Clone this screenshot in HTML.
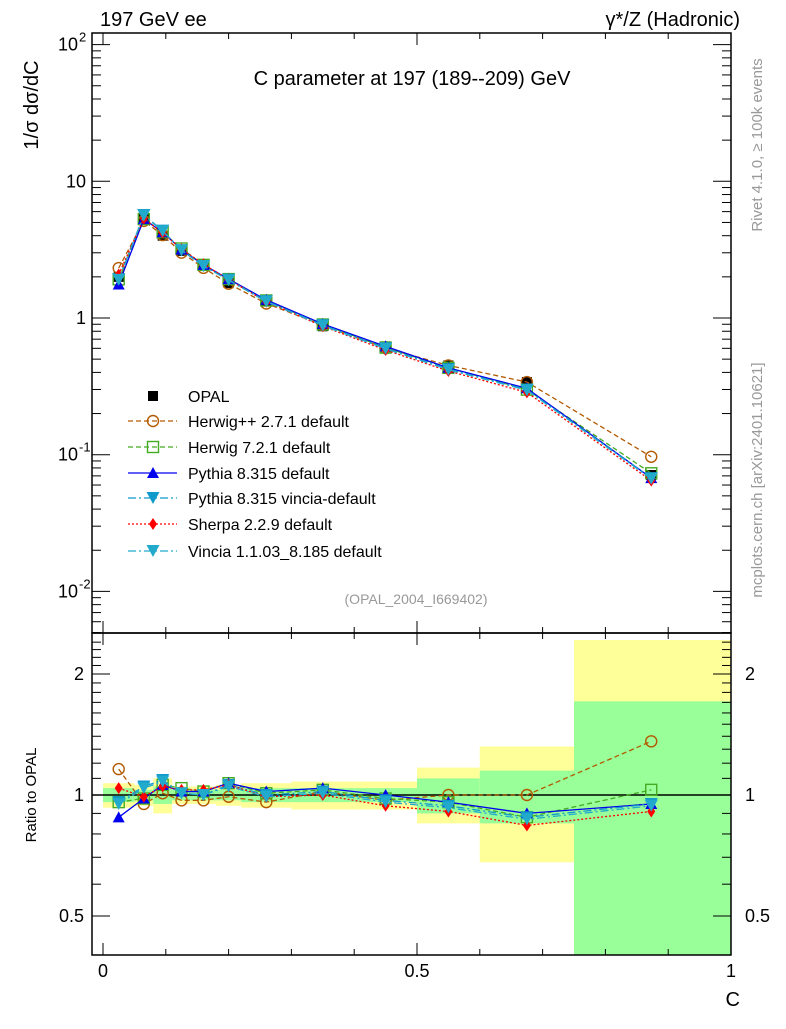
<!DOCTYPE html>
<html><head><meta charset="utf-8"><style>
body{margin:0;background:#fff;font-family:"Liberation Sans",sans-serif}
svg text{font-family:"Liberation Sans",sans-serif}
</style></head><body>
<svg id="c" width="786" height="1024" xmlns="http://www.w3.org/2000/svg"></svg>
<script>
const edges=[0,0.05,0.08,0.11,0.14,0.18,0.22,0.3,0.4,0.5,0.6,0.75,1.0];
const centers=[0.025,0.065,0.095,0.125,0.16,0.2,0.26,0.35,0.45,0.55,0.675,0.873];
const opal=[2.0,5.4,4.0,3.1,2.4,1.8,1.33,0.87,0.62,0.45,0.34,0.071];
const yellowHi=[1.07,1.06,1.1,1.05,1.05,1.06,1.07,1.08,1.08,1.17,1.32,2.6];
const yellowLo=[0.93,0.94,0.9,0.95,0.95,0.94,0.93,0.92,0.92,0.85,0.68,0.3];
const greenHi=[1.04,1.03,1.05,1.03,1.03,1.03,1.04,1.04,1.04,1.1,1.15,1.71];
const greenLo=[0.96,0.97,0.95,0.97,0.97,0.97,0.96,0.96,0.96,0.9,0.85,0.3];
const rHerwigpp=[1.16,0.95,1.01,0.97,0.97,0.99,0.96,1.02,0.97,1.0,1.0,1.36];
const rHerwig7=[0.96,0.98,1.06,1.04,1.02,1.07,1.01,1.03,0.98,0.96,0.88,1.03];
const rPythia=[0.88,0.98,1.06,1.02,1.02,1.07,1.02,1.04,1.0,0.96,0.9,0.95];
const rPyVincia=[0.96,1.05,1.09,1.01,1.0,1.06,1.0,1.02,0.97,0.94,0.88,0.95];
const rSherpa=[1.04,0.99,1.05,1.03,1.03,1.06,0.99,1.0,0.94,0.91,0.84,0.91];
const rVincia=[0.95,1.04,1.08,1.01,1.0,1.05,0.99,1.01,0.96,0.93,0.87,0.94];
const xTicks=[0,0.5,1];
const mainTicks=[-2,-1,0,1,2];
const ratioTicks=[0.5,1,2];

const NS="http://www.w3.org/2000/svg",svg=document.getElementById('c');
const X=v=>103+v*628;
const Ym=v=>318-136.7*Math.log10(v);
const Yr=v=>795-402*Math.log10(v);
const L=92,R=731,T=33,M=633,B=955;
function el(t,a,p){const e=document.createElementNS(NS,t);for(const k in a)e.setAttribute(k,a[k]);(p||svg).appendChild(e);return e;}
function txt(s,a){const e=el('text',a);e.textContent=s;return e;}

for(let i=0;i<edges.length-1;i++){
  const x0=X(edges[i]),x1=X(edges[i+1]);
  const yt=Math.max(M+7,Yr(yellowHi[i])),ybt=Math.min(B,Yr(yellowLo[i]));
  const yb=el('rect',{x:x0,y:yt,width:x1-x0,height:ybt-yt,fill:'#ffff99'});
  
  
  const gt=Math.max(M,Yr(greenHi[i])),gbt=Math.min(B,Yr(greenLo[i]));
  const gb=el('rect',{x:x0,y:gt,width:x1-x0,height:gbt-gt,fill:'#99ff99'});
  
  
}
el('line',{x1:L,x2:R,y1:Yr(1),y2:Yr(1),stroke:'#000','stroke-width':1.5});

const series=[
 {name:'Herwig++ 2.7.1 default',r:rHerwigpp,col:'#b35900',dash:'5,3',m:'circle'},
 {name:'Herwig 7.2.1 default',r:rHerwig7,col:'#44aa22',dash:'5,3',m:'square'},
 {name:'Pythia 8.315 default',r:rPythia,col:'#0000ee',dash:'',m:'tri'},
 {name:'Pythia 8.315 vincia-default',r:rPyVincia,col:'#1199cc',dash:'8,3,2,3',m:'dtri'},
 {name:'Sherpa 2.2.9 default',r:rSherpa,col:'#ff0000',dash:'2,2',m:'diamond'},
 {name:'Vincia 1.1.03_8.185 default',r:rVincia,col:'#22aacc',dash:'8,3,2,3',m:'dtri'}
];
function marker(m,x,y,col,g){
  if(m==='circle')return el('circle',{cx:x,cy:y,r:5.5,fill:'none',stroke:col,'stroke-width':1.4},g);
  if(m==='square')return el('rect',{x:x-5.5,y:y-5.5,width:11,height:11,fill:'none',stroke:col,'stroke-width':1.4},g);
  if(m==='tri')return el('polygon',{points:`${x-6},${y+5} ${x+6},${y+5} ${x},${y-6}`,fill:col},g);
  if(m==='dtri')return el('polygon',{points:`${x-6.5},${y-6} ${x+6.5},${y-6} ${x},${y+6}`,fill:col},g);
  if(m==='diamond')return el('polygon',{points:`${x},${y-6} ${x+4},${y} ${x},${y+6} ${x-4},${y}`,fill:col},g);
  if(m==='sq')return el('rect',{x:x-5,y:y-5,width:10,height:10,fill:col},g);
}
const gd=el('g',{});


centers.forEach((c,i)=>marker('sq',X(c),Ym(opal[i]),'#000',gd));
series.forEach(s=>{
  const gm=el('g',{});
  
  
  const gr=el('g',{});
  
  
  const pm=centers.map((c,i)=>X(c)+','+Ym(opal[i]*s.r[i])).join(' ');
  const pr=centers.map((c,i)=>X(c)+','+Yr(s.r[i])).join(' ');
  el('polyline',{points:pm,fill:'none',stroke:s.col,'stroke-width':1.3,'stroke-dasharray':s.dash},gm);
  el('polyline',{points:pr,fill:'none',stroke:s.col,'stroke-width':1.3,'stroke-dasharray':s.dash},gr);
  centers.forEach((c,i)=>{marker(s.m,X(c),Ym(opal[i]*s.r[i]),s.col,gm);marker(s.m,X(c),Yr(s.r[i]),s.col,gr);});
});

el('rect',{x:L,y:T,width:R-L,height:M-T,fill:'none',stroke:'#000','stroke-width':1.5});
el('rect',{x:L,y:M,width:R-L,height:B-M,fill:'none',stroke:'#000','stroke-width':1.5});

for(let v=0;v<=1.0001;v+=0.1){const big=Math.abs(v*2-Math.round(v*2))<1e-6;const h=big?12:6;
  [[M,-1],[B,-1],[T,1],[M,1]].forEach(([y,d])=>el('line',{x1:X(v),x2:X(v),y1:y,y2:y+d*h,stroke:'#000'}));}
xTicks.forEach(v=>{const t=txt(String(v),{x:X(v),y:977,'font-size':18,'text-anchor':'middle'});});
const xt=txt('C',{x:740,y:1006,'font-size':20,'text-anchor':'end'});


for(let d=-3;d<=2;d++)for(let k=1;k<10;k++){const v=Math.pow(10,d)*k,y=Ym(v);if(y<T||y>M)continue;const h=k===1?18:9;
  el('line',{x1:L,x2:L+h,y1:y,y2:y,stroke:'#000'});el('line',{x1:R,x2:R-h,y1:y,y2:y,stroke:'#000'});}
mainTicks.forEach(d=>{let t;const y=Ym(Math.pow(10,d))+6;
  if(d===0)t=txt('1',{x:86,y:y,'font-size':18,'text-anchor':'end'});
  else if(d===1)t=txt('10',{x:86,y:y,'font-size':18,'text-anchor':'end'});
  else{t=txt('10',{x:78,y:y,'font-size':18,'text-anchor':'end'});const s=txt(String(d),{x:79,y:y-9,'font-size':13});}
  });
for(let v=0.4;v<=2.5;v+=0.1){const y=Yr(v);if(y<M||y>B)continue;const big=ratioTicks.some(r=>Math.abs(r-v)<1e-6);const h=big?18:9;
  el('line',{x1:L,x2:L+h,y1:y,y2:y,stroke:'#000'});el('line',{x1:R,x2:R-h,y1:y,y2:y,stroke:'#000'});}
ratioTicks.forEach(v=>{const s=String(v);
  const a=txt(s,{x:84,y:Yr(v)+6,'font-size':18,'text-anchor':'end'});
  const b=txt(s,{x:745,y:Yr(v)+6,'font-size':18});});

function T2(s,a,n){const t=txt(s,a);return t;}
T2('197 GeV ee',{x:100,y:26,'font-size':20},'top-left-label');
T2('γ*/Z (Hadronic)',{x:740,y:26,'font-size':20,'text-anchor':'end'},'top-right-label');
T2('C parameter at 197 (189--209) GeV',{x:412,y:85,'font-size':20,'text-anchor':'middle'},'plot-title');
T2('1/σ   dσ/dC',{x:38,y:105,'font-size':20,'text-anchor':'middle',transform:'rotate(-90 38 105)'},'y-axis-title');
T2('Ratio to OPAL',{x:36,y:795,'font-size':15,'text-anchor':'middle',transform:'rotate(-90 36 795)'},'ratio-axis-title');
T2('(OPAL_2004_I669402)',{x:416,y:604,'font-size':14,fill:'#999','text-anchor':'middle'},'analysis-id');
T2('Rivet 4.1.0, ≥ 100k events',{x:762,y:145,'font-size':15,fill:'#999','text-anchor':'middle',transform:'rotate(-90 762 145)'},'rivet-label');
T2('mcplots.cern.ch [arXiv:2401.10621]',{x:762,y:480,'font-size':15,fill:'#999','text-anchor':'middle',transform:'rotate(-90 762 480)'},'mcplots-label');

const lg=el('g',{});


const rows=[{name:'OPAL',m:'sq',col:'#000',dash:null}].concat(series);
const ly=[396,421,447,473,498,524,551];
rows.forEach((s,i)=>{const y=ly[i];
  const g=el('g',{},lg);
  
  
  if(s.dash!==null)el('line',{x1:128,x2:177,y1:y,y2:y,stroke:s.col,'stroke-width':1.3,'stroke-dasharray':s.dash},g);
  marker(s.m,153,y,s.col,g);
  const t=el('text',{x:188,y:y+6,'font-size':16},g);t.textContent=s.name;});
</script>
</body></html>
